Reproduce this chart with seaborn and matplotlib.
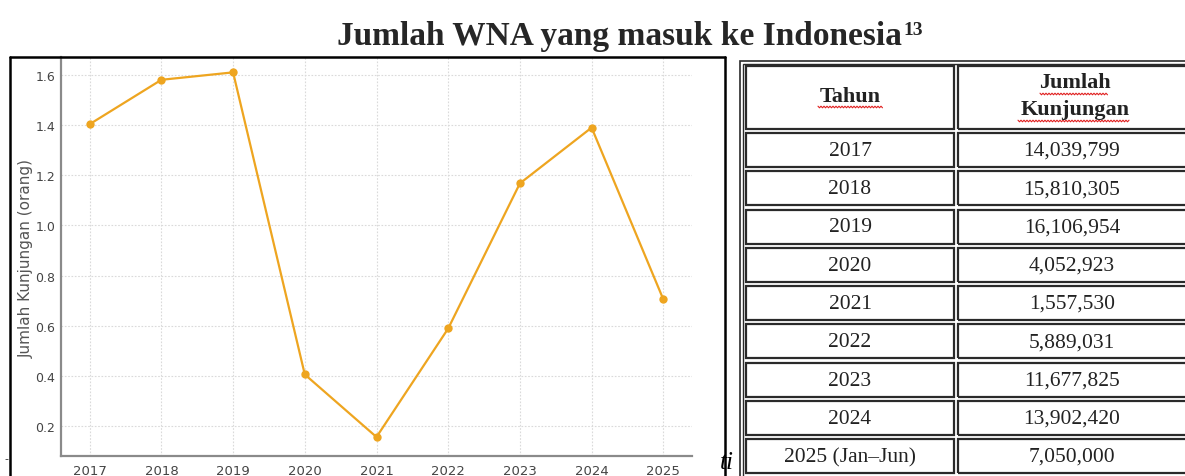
## Recreate: Jumlah WNA yang masuk ke Indonesia (line chart + table)
import numpy as np
import pandas as pd
import matplotlib
matplotlib.use('Agg')
import matplotlib.pyplot as plt
from matplotlib.patches import Rectangle
from matplotlib.lines import Line2D
import seaborn as sns

## Data
tahun = [2017, 2018, 2019, 2020, 2021, 2022, 2023, 2024, 2025]
label_tahun = ['2017', '2018', '2019', '2020', '2021', '2022', '2023', '2024', '2025 (Jan\u2013Jun)']
kunjungan = [14039799, 15810305, 16106954, 4052923, 1557530, 5889031, 11677825, 13902420, 7050000]
y_ticks = [0.2, 0.4, 0.6, 0.8, 1.0, 1.2, 1.4, 1.6]

W, H = 1185, 477
sns.set_style('white')
plt.rcParams['font.family'] = ['DejaVu Sans']

fig = plt.figure(figsize=(W / 100, H / 100), dpi=100)

def fx(px):
    return px / W

def fy(py):
    return 1 - py / H

## Line chart
ax = fig.add_axes([fx(61), fy(457), fx(692) - fx(61), (457 - 58) / H])
df = pd.DataFrame({'tahun': tahun, 'kunjungan': np.array(kunjungan) / 1e7})
sns.lineplot(data=df, x='tahun', y='kunjungan', marker='o', color='#EEA520',
             lw=1.6, markersize=6, markeredgewidth=0, ax=ax)
ax.set_xlim(2016.6, 2025.4)
ax.set_ylim(0.08, 1.672)
ax.set_xticks(tahun)
ax.set_xticklabels([str(t) for t in tahun])
ax.set_yticks(y_ticks)
ax.set_yticklabels(['%.1f' % v for v in y_ticks])
ax.grid(True, ls=(0, (1.5, 1.5)), color='#dadada', lw=0.8)
for s in ['top', 'right']:
    ax.spines[s].set_visible(False)
for s in ['left', 'bottom']:
    ax.spines[s].set_color('#8a8a8a')
    ax.spines[s].set_linewidth(1.6)
ax.tick_params(axis='x', direction='out', length=4, width=0.8, color='#333333',
               labelsize=9.5, labelcolor='#444444', pad=2)
ax.tick_params(axis='y', direction='out', length=2, width=0.8, color='#888888',
               labelsize=9, labelcolor='#444444', pad=2)
ax.set_xlabel('')
ax.set_ylabel('Jumlah Kunjungan (orang)', fontsize=11, color='#555555')
ax.yaxis.set_label_coords((34 - 61) / 631, (457 - 258) / 399)
ax.patch.set_alpha(0)

## Frame of the screenshot image
frame = dict(color='black', lw=1.8, transform=fig.transFigure)
fig.add_artist(Line2D([fx(10), fx(725)], [fy(57.5), fy(57.5)], **frame))
fig.add_artist(Line2D([fx(10), fx(10)], [fy(57.5), fy(480)], **frame))
fig.add_artist(Line2D([fx(725), fx(725)], [fy(57.5), fy(480)], **frame))
fig.text(fx(4), fy(459), '-', fontsize=8, va='center', color='#333333')
fig.text(fx(720), fy(463), 'ti', fontsize=18, style='italic', family='Liberation Serif',
         va='center', ha='left', color='black')

## Title
title = fig.text(fx(337), fy(45), 'Jumlah WNA yang masuk ke Indonesia', fontsize=24,
                 weight='bold', family='Liberation Serif', ha='left', va='baseline')
fig.canvas.draw()
bb = title.get_window_extent()
fig.text(bb.x1 / W + 0.001, fy(45) + 0.022, '13', fontsize=14, weight='bold',
         family='Liberation Serif', ha='left', va='baseline')

## Table
lc = '#2a2a2a'
fig.add_artist(Rectangle((fx(739.5), fy(490)), fx(1200) - fx(739.5), fy(62) - fy(490),
                         fill=False, ec=lc, lw=1.2, transform=fig.transFigure))
fig.add_artist(Rectangle((fx(742.5), fy(490)), fx(1200) - fx(742.5), fy(65) - fy(490),
                         fill=False, ec=lc, lw=1.0, transform=fig.transFigure))

col_x = [(745.5, 953.5), (957.5, 1200)]
rows = [(67, 129.5)] + [(134 + 38.25 * i, 134 + 38.25 * i + 34) for i in range(len(label_tahun))]

def cell(x0, x1, y0, y1):
    fig.add_artist(Rectangle((fx(x0), fy(y1)), fx(x1) - fx(x0), fy(y0) - fy(y1),
                             fill=False, ec=lc, lw=1.6, transform=fig.transFigure))

tfont = dict(family='Liberation Serif', color='#222222', ha='center', va='center')
for (y0, y1) in rows:
    for (x0, x1) in col_x:
        cell(x0, x1, y0, y1)

fig.text(fx(850), fy(97), 'Tahun', fontsize=16, weight='bold', **tfont)
fig.text(fx(1075), fy(83), 'Jumlah', fontsize=16, weight='bold', **tfont)
fig.text(fx(1075), fy(110), 'Kunjungan', fontsize=16, weight='bold', **tfont)

for i, (lab, val) in enumerate(zip(label_tahun, kunjungan)):
    yc = rows[i + 1][0] + 17.5
    fig.text(fx(850), fy(yc), lab, fontsize=15.5, **tfont)
    fig.text(fx(1072), fy(yc), '{:,}'.format(val), fontsize=15.5, **tfont)

## red spell-check squiggles under header words
def squiggle(x0, x1, y):
    xs = np.arange(x0, x1 + 0.1, 1.5)
    ys = y + np.where(np.arange(len(xs)) % 2 == 0, -0.8, 0.8)
    fig.add_artist(Line2D(fx(xs), fy(ys), color='#e02020', lw=0.8, transform=fig.transFigure))

squiggle(818, 883, 108)
squiggle(1040, 1108, 95)
squiggle(1018, 1130, 122)

fig.savefig('out.png', dpi=100)
